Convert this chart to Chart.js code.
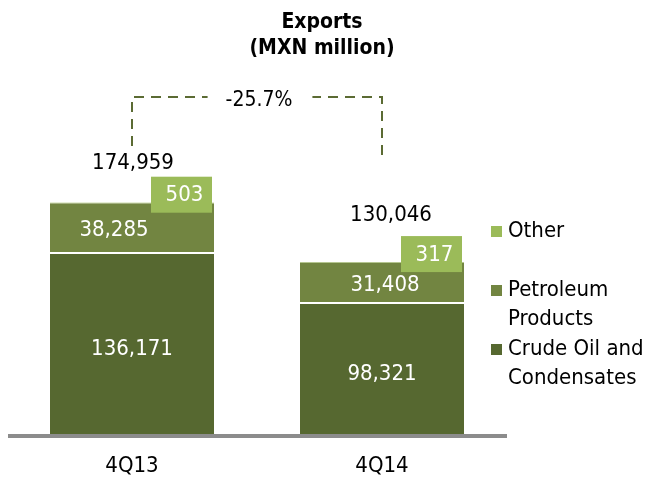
<!DOCTYPE html>
<html>
<head>
<meta charset="utf-8">
<script src="https://cdn.jsdelivr.net/npm/chart.js@4.4.1/dist/chart.umd.min.js"></script>
<style>
  html, body { margin: 0; padding: 0; background: #fff; }
  #wrap { width: 656px; height: 477px; }
</style>
</head>
<body>
<div id="wrap"><canvas id="mychart" width="656" height="477"></canvas></div>
<script>
// data (MXN million)
const categories = ["4Q13", "4Q14"];
const crudeOil = [136171, 98321];
const petroleumProducts = [38285, 31408];
const other = [503, 317];
const totals = [174959, 130046];

const seriesNames = ["Crude Oil and Condensates", "Petroleum Products", "Other"];
const legendLines = [["Other"], ["Petroleum", "Products"], ["Crude Oil and", "Condensates"]];
const titleLines = ["Exports", "(MXN million)"];

const FONT = "'DejaVu Sans Condensed', 'Liberation Sans Narrow', 'DejaVu Sans', sans-serif";
const cCrude = "#566830";
const cPetro = "#728541";
const cOther = "#9bbb59";
const cDash = "#5b6b33";

function fmt(v) {
  return v.toLocaleString("en-US");
}

// everything that is not a bar: title, labels, bracket, legend, axis line
const extras = {
  id: "extras",
  afterDatasetsDraw(chart) {
    const ctx = chart.ctx;
    const area = chart.chartArea;
    const crudeMeta = chart.getDatasetMeta(0).data;
    const petroMeta = chart.getDatasetMeta(1).data;
    const otherMeta = chart.getDatasetMeta(2).data;

    ctx.save();

    // axis line
    ctx.fillStyle = "#8c8c8c";
    ctx.fillRect(area.left + 1, area.bottom, area.right - area.left - 1, 4);

    // title
    ctx.fillStyle = "#000";
    ctx.textAlign = "center";
    ctx.textBaseline = "middle";
    ctx.font = "bold 21px " + FONT;
    ctx.fillText(titleLines[0], 322, 23);
    ctx.fillText(titleLines[1], 322, 49);

    ctx.font = "22px " + FONT;
    const petroShift = [-18, 3];
    const totalShift = [[1, -39], [9, -47]];
    for (let i = 0; i < categories.length; i++) {
      const c = crudeMeta[i], p = petroMeta[i], o = otherMeta[i];
      const right = c.x + c.width / 2;

      // crude label
      ctx.fillStyle = "#fff";
      ctx.fillText(fmt(crudeOil[i]), c.x, (c.y + c.base) / 2 + 5);

      // petroleum label
      ctx.fillText(fmt(petroleumProducts[i]), p.x + petroShift[i], (p.y + p.base) / 2 + 2);

      // other label in its own box
      const bw = 61, bh = 36;
      const by = o.y - 8 - bh / 2;
      ctx.fillStyle = cOther;
      ctx.fillRect(right - 2 - bw, by, bw, bh);
      ctx.fillStyle = "#fff";
      ctx.fillText(fmt(other[i]), right - 2 - bw / 2 + 3, by + bh / 2 + 1);

      // total
      ctx.fillStyle = "#000";
      ctx.fillText(fmt(totals[i]), o.x + totalShift[i][0], o.y + totalShift[i][1]);
    }

    // change bracket
    const x1 = crudeMeta[0].x, x2 = crudeMeta[1].x;
    const change = (totals[1] / totals[0] - 1) * 100;
    const label = change.toFixed(1) + "%";
    const mid = (x1 + x2) / 2;
    const topY = 97;
    ctx.font = "21px " + FONT;
    const tw = ctx.measureText(label).width;
    ctx.strokeStyle = cDash;
    ctx.lineWidth = 2;
    ctx.setLineDash([10, 7]);
    ctx.beginPath();
    ctx.moveTo(x1, 146);
    ctx.lineTo(x1, topY);
    ctx.lineTo(mid - tw / 2 - 16, topY);
    ctx.stroke();
    ctx.beginPath();
    ctx.moveTo(x2, 155);
    ctx.lineTo(x2, topY);
    ctx.lineTo(mid + tw / 2 + 22, topY);
    ctx.stroke();
    ctx.setLineDash([]);
    ctx.fillStyle = "#000";
    ctx.fillText(label, mid + 2, topY + 4);

    // legend
    const legendColors = [cOther, cPetro, cCrude];
    const legendY = [231, 290, 349];
    ctx.font = "22px " + FONT;
    ctx.textAlign = "left";
    for (let k = 0; k < legendLines.length; k++) {
      ctx.fillStyle = legendColors[k];
      ctx.fillRect(491, legendY[k] - 5, 11, 11);
      ctx.fillStyle = "#000";
      legendLines[k].forEach((line, n) => {
        ctx.fillText(line, 508, legendY[k] + n * 29);
      });
    }

    ctx.restore();
  }
};

new Chart(document.getElementById("mychart").getContext("2d"), {
  type: "bar",
  data: {
    labels: categories,
    datasets: [
      {
        label: seriesNames[0],
        data: crudeOil,
        backgroundColor: cCrude,
        borderWidth: 0
      },
      {
        label: seriesNames[1],
        data: petroleumProducts,
        backgroundColor: cPetro,
        borderColor: "#ffffff",
        borderWidth: { top: 0, left: 0, right: 0, bottom: 2 },
        borderSkipped: false
      },
      {
        label: seriesNames[2],
        data: other,
        backgroundColor: cOther,
        borderWidth: 0
      }
    ]
  },
  options: {
    responsive: false,
    animation: false,
    layout: { padding: { top: 84, left: 7, right: 149, bottom: 0 } },
    datasets: {
      bar: { categoryPercentage: 1, barPercentage: 0.656 }
    },
    plugins: {
      legend: { display: false },
      title: { display: false },
      tooltip: { enabled: false }
    },
    scales: {
      x: {
        stacked: true,
        grid: { display: false, drawTicks: false },
        border: { display: false },
        ticks: {
          color: "#000",
          padding: 21,
          font: { family: FONT, size: 22, lineHeight: 1 }
        },
        afterFit(scale) {
          scale.height = 43;
        }
      },
      y: {
        stacked: true,
        display: false,
        min: 0,
        max: 264750
      }
    }
  },
  plugins: [extras]
});
</script>
</body>
</html>
